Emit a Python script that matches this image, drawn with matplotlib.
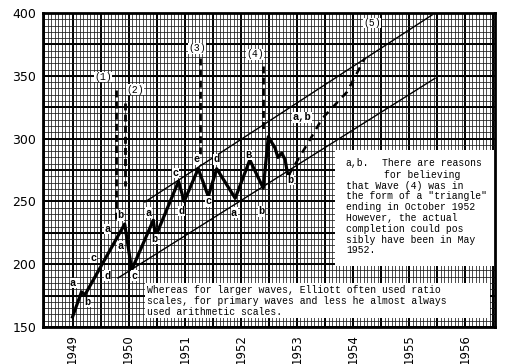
import numpy as np
import matplotlib.pyplot as plt
from matplotlib.patches import Rectangle

# Onda principal (ano decimal, valor do indice)
wave_years = [1949.0, 1949.16, 1949.22, 1949.93, 1950.055, 1950.44, 1950.48,
              1950.89, 1950.99, 1951.24, 1951.42, 1951.57, 1951.90, 1952.16,
              1952.40, 1952.49, 1952.61, 1952.66, 1952.73, 1952.79, 1952.84]
wave_values = [158, 178, 175.5, 232, 195.5, 235, 222,
               266, 250, 276, 254, 276, 252.5, 283,
               260.5, 301.5, 292.5, 285, 288.5, 283, 270]

# Projecao tracejada da onda (5)
proj_years = [1952.84, 1953.23, 1953.45, 1953.68, 1953.89, 1954.21]
proj_values = [270, 299, 316, 327, 337, 364]

# Canal de tendencia
upper_years = [1950.29, 1955.41]
upper_values = [249.5, 398.5]
lower_years = [1949.81, 1955.46]
lower_values = [189, 348]

# Linhas verticais tracejadas das ondas (ano, topo, base)
mark_years = [1949.78, 1949.93, 1951.27, 1952.40]
mark_tops = [339, 328, 364, 358]
mark_bottoms = [235, 262, 285, 305]

# Rotulos das ondas
wave_labels = ['(1)', '(2)', '(3)', '(4)', '(5)']
wave_label_years = [1949.54, 1950.11, 1951.22, 1952.25, 1954.34]
wave_label_values = [349, 339, 372, 367, 392]

sub_labels = ['a', 'b', 'c', 'd', 'a', 'b', 'a', 'c', 'a', 'b', 'c', 'd',
              'e', 'c', 'd', 'a', 'B', 'b', 'b', 'a,b']
sub_years = [1949.01, 1949.26, 1949.37, 1949.62, 1949.62, 1949.86, 1949.86,
             1950.11, 1950.35, 1950.46, 1950.83, 1950.95, 1951.21, 1951.42,
             1951.56, 1951.88, 1952.13, 1952.37, 1952.88, 1953.09]
sub_values = [185, 170, 205, 191, 228, 239, 214.5, 191, 241, 220, 272.5,
              242.5, 283.5, 250, 283.5, 241, 287, 242, 267, 317]

years = [1949, 1950, 1951, 1952, 1953, 1954, 1955, 1956]
y_ticks = [150, 200, 250, 300, 350, 400]

W, H = 510, 364
fig = plt.figure(figsize=(W / 100, H / 100), dpi=100)
ax = fig.add_axes([43 / W, 1 - 327 / H, (495 - 43) / W, (327 - 13) / H])
x0, x1 = 1948.474, 1956.53
ax.set_xlim(x0, x1)
ax.set_ylim(150, 400)

# Papel milimetrado
for gx in np.arange(1948.5, x1, 1 / 16):
    ax.axvline(gx, color='#1a1a1a', lw=0.55, zorder=1)
for gx in np.arange(1948.5, x1, 0.5):
    ax.axvline(gx, color='black', lw=1.4, zorder=1)
for gy in np.arange(150, 400, 5):
    ax.axhline(gy, color='#1a1a1a', lw=0.55, zorder=1)
for gy in np.arange(150, 401, 25):
    ax.axhline(gy, color='black', lw=1.4, zorder=1)

# Caixas de texto em branco
ax.add_patch(Rectangle((1953.68, 198.5), x1 - 1953.68, 291 - 198.5,
                       facecolor='white', edgecolor='none', zorder=2))
ax.add_patch(Rectangle((1950.29, 157), 1956.44 - 1950.29, 185 - 157,
                       facecolor='white', edgecolor='none', zorder=2))

# Canal
ax.plot(upper_years, upper_values, color='black', lw=1.0, zorder=3)
ax.plot(lower_years, lower_values, color='black', lw=1.0, zorder=3)

# Onda e projecao
ax.plot(wave_years, wave_values, color='black', lw=2.3, zorder=4)
ax.plot(proj_years, proj_values, color='black', lw=1.8, ls=(0, (3, 2.5)), zorder=4)

for xm, top, bot in zip(mark_years, mark_tops, mark_bottoms):
    ax.plot([xm, xm], [top, bot], color='black', lw=2.0, ls=(0, (2.5, 1.5)), zorder=4)

for t, xv, yv in zip(wave_labels, wave_label_years, wave_label_values):
    ax.text(xv, yv, t, fontsize=7, family='Liberation Mono', ha='center',
            va='center', zorder=5, bbox=dict(facecolor='white', edgecolor='none', pad=0.3))

for t, xv, yv in zip(sub_labels, sub_years, sub_values):
    ax.text(xv, yv, t, fontsize=7.5, family='Liberation Mono', weight='bold',
            ha='center', va='center', zorder=5,
            bbox=dict(facecolor='white', edgecolor='none', pad=0.2))

# Eixos
ax.set_xticks(years)
ax.set_xticklabels([str(y) for y in years], rotation=90, fontsize=8.5,
                   family='DejaVu Sans')
ax.set_yticks(y_ticks)
ax.set_yticklabels([str(v) for v in y_ticks], fontsize=9, family='DejaVu Sans')
ax.tick_params(length=0, pad=5)
for s in ax.spines.values():
    s.set_linewidth(2.0)
    s.set_zorder(6)

# Notas
def note(txt, px, py):
    fig.text(px / W, 1 - py / H, txt, fontsize=7, family='Liberation Mono',
             ha='left', va='center', zorder=7)

note('a,b.', 345, 163)
note('There are reasons', 382, 163)
note('for believing', 384, 175)
note('that Wave (4) was in', 346, 186)
note('the form of a "triangle"', 346, 196)
note('ending in October 1952', 346, 207)
note('However, the actual', 346, 218)
note('completion could pos', 346, 229)
note('sibly have been in May', 346, 240)
note('1952.', 346, 250)

note('Whereas for larger waves, Elliott often used ratio', 147, 290)
note('scales, for primary waves and less he almost always', 147, 301)
note('used arithmetic scales.', 147, 312)

fig.savefig('out.png', dpi=100)
